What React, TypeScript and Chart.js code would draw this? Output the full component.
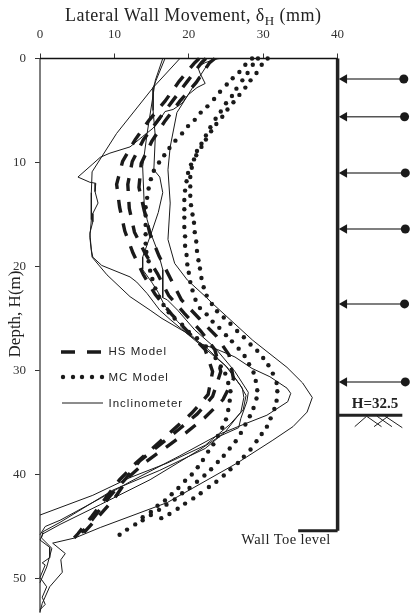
import { useEffect, useRef } from "react";
import { Chart, registerables } from "chart.js";

Chart.register(...registerables);

type P = [number, number];

const xTickMax = 40;
const xScaleMax = 49.53;
const depthMax = 52.79;
const titleMain = "Lateral Wall Movement, δ";
const titleSub = "H";
const titleEnd = " (mm)";
const yTitle = "Depth, H(m)";
const legendLabels = ["HS Model", "MC Model", "Inclinometer"];
const heightLabel = "H=32.5";
const toeLabel = "Wall Toe level";

const mcOuter: P[] = [[30.6,0],[29.8,0.6],[29.1,1.4],[28.3,2.1],[27.6,2.8],[26.8,3.5],[26.0,4.2],[25.2,4.9],[24.5,5.6],[23.7,6.3],[23.0,7.0],[22.3,7.8],[21.7,8.5],[21.0,9.3],[20.4,10.5],[20.2,11.4],[20.2,12.3],[20.2,13.2],[20.3,14.1],[20.5,15.0],[20.7,15.8],[20.8,16.7],[21.0,17.6],[21.1,18.5],[21.3,19.4],[21.5,20.2],[21.7,21.1],[22.0,22.0],[22.4,22.8],[23.1,23.6],[23.8,24.3],[24.7,24.9],[25.6,25.5],[26.5,26.2],[27.4,26.8],[28.3,27.5],[29.2,28.1],[30.0,28.8],[30.7,29.5],[31.3,30.3],[31.8,31.2],[31.9,32.0],[31.8,32.9],[31.5,33.7],[31.0,34.6],[30.5,35.4],[29.8,36.1],[29.1,36.8],[28.3,37.6],[27.4,38.3],[26.6,38.9],[25.6,39.5],[24.7,40.1],[23.7,40.7],[22.7,41.2],[21.6,41.8],[20.6,42.3],[19.5,42.8],[18.5,43.3],[17.4,43.8],[16.3,44.2]];
const mcMiddle: P[] = [[29.3,0],[28.6,0.6],[27.9,1.4],[27.2,2.1],[26.4,2.9],[25.8,3.6],[25.0,4.3],[24.3,5.1],[23.6,5.8],[22.9,6.6],[22.3,7.4],[21.7,8.2],[21.1,8.9],[20.7,9.7],[20.3,10.2],[19.9,11.0],[19.7,11.8],[19.5,12.7],[19.4,13.6],[19.4,14.5],[19.4,15.3],[19.4,16.2],[19.5,17.1],[19.5,18.0],[19.7,18.9],[19.8,19.8],[20.0,20.6],[20.2,21.5],[20.5,22.3],[20.9,23.2],[21.5,24.0],[22.4,24.6],[23.2,25.3],[24.1,25.9],[25.0,26.6],[25.8,27.2],[26.7,27.9],[27.5,28.6],[28.1,29.4],[28.7,30.2],[29.0,31.0],[29.2,31.9],[29.1,32.7],[28.7,33.6],[28.2,34.4],[27.6,35.2],[27.0,36.0],[26.3,36.8],[25.5,37.5],[24.7,38.2],[23.9,38.8],[23.0,39.5],[22.1,40.1],[21.1,40.7],[20.1,41.3],[19.1,41.8],[18.1,42.4],[17.0,42.9],[16.0,43.4],[14.9,43.9],[13.8,44.4],[12.8,44.8],[11.7,45.3],[10.7,45.8]];
const mcInner: P[] = [[28.5,0],[27.6,0.6],[26.8,1.3],[25.9,1.9],[25.1,2.5],[24.2,3.2],[23.4,3.9],[22.5,4.6],[21.6,5.2],[20.8,5.9],[19.9,6.5],[19.1,7.2],[18.2,7.9],[17.4,8.6],[16.7,9.3],[16.0,10.0],[15.3,10.8],[14.9,11.6],[14.6,12.5],[14.4,13.4],[14.2,14.3],[14.2,15.1],[14.2,16.0],[14.2,16.9],[14.2,17.8],[14.3,18.6],[14.6,19.5],[14.8,20.4],[15.1,21.2],[15.5,22.1],[16.0,22.9],[16.6,23.7],[17.3,24.4],[18.1,25.0],[19.1,25.6],[20.0,26.3],[21.1,26.9],[22.3,27.7],[23.6,28.8],[24.3,29.6],[24.9,30.3],[25.3,31.2],[25.6,32.0],[25.5,32.9],[25.3,33.8],[25.0,34.7],[24.5,35.5],[23.9,36.3],[23.3,37.1],[22.6,37.8],[21.9,38.6],[21.2,39.3],[20.4,40.0],[19.5,40.6],[18.6,41.3],[17.7,41.9],[16.8,42.5],[15.8,43.0],[14.9,43.6],[13.8,44.1]];

const hsLeft: P[] = [[21.4,0],[20.8,0.4],[18.7,2.2],[16.8,4.1],[14.7,5.9],[12.8,7.8],[11.1,9.9],[10.3,12.1],[10.7,14.3],[11.4,16.6],[12.5,18.7],[13.9,20.8],[15.5,22.7],[17.7,24.6],[19.9,26.3],[22.2,28.0],[23.2,30.1],[22.6,32.3],[20.4,34.1],[17.9,35.7],[15.4,37.3],[12.9,38.9],[10.7,40.5],[8.9,42.2],[7.0,44.0],[5.1,45.7],[4.6,46.1]];
const hsMiddle: P[] = [[22.3,0],[21.7,0.4],[19.8,2.2],[17.8,4.1],[15.9,5.9],[13.9,7.8],[12.4,9.9],[11.8,12.1],[12.0,14.4],[12.7,16.7],[14.1,18.7],[15.8,20.7],[17.3,22.8],[19.4,24.5],[21.6,26.2],[23.5,28.0],[24.3,30.1],[23.2,32.5],[21.1,34.2],[18.6,35.7],[16.0,37.2],[13.4,38.7],[11.4,40.5],[9.5,42.0],[7.5,43.9],[5.6,45.6]];
const hsRight: P[] = [[23.5,0],[22.8,0.4],[21.0,2.3],[18.8,4.1],[16.8,6.0],[15.0,8.0],[13.6,10.1],[13.3,12.4],[14.0,14.6],[14.8,16.9],[16.0,19.0],[17.5,21.1],[19.0,23.2],[21.4,25.0],[23.7,26.7],[25.4,28.5],[26.0,30.8],[24.6,32.8],[22.2,34.5],[19.6,36.0],[16.9,37.4],[14.2,38.8],[12.0,40.2],[9.9,42.4],[7.9,44.0],[5.9,45.6]];

const incA: P[] = [[23.9,0],[22.2,0.4],[21.2,0.8],[21.5,1.4],[22.2,2.4],[21.1,2.8],[19.9,3.5],[19.1,4.3],[17.9,4.9],[16.8,5.1],[16.1,5.9],[15.2,6.7],[13.8,7.5],[12.1,8.5],[9.4,9.1],[8.1,9.5],[7.0,10.2],[5.1,11.4],[6.7,11.9],[7.5,12.0],[7.4,12.8],[7.8,13.9],[7.1,14.9],[7.1,15.7],[6.7,16.8],[6.9,18.4],[7.1,19.1],[8.3,19.9],[12.1,21.0],[13.0,21.5],[14.4,22.6],[16.1,24.2],[17.5,25.1],[19.5,26.3],[21.5,27.5],[24.9,29.5],[26.9,31.4],[27.7,32.4],[27.3,33.8],[25.5,35.2],[22.2,37.2],[17.1,38.9],[12.1,40.3],[7.1,42.0],[0,43.9]];
const incB: P[] = [[18.8,0],[15.2,2.8],[10.3,7.2],[7.0,10.9],[6.9,12.9],[6.9,15.5],[6.7,17.2],[7.0,19.1],[9.0,20.8],[12.1,22.9],[14.8,24.2],[16.4,25.0],[19.5,26.3],[22.2,27.7],[25.3,29.8],[27.2,31.7],[27.4,32.6],[27.0,34.0],[24.9,35.9],[22.2,37.5],[16.1,39.6],[9.8,41.5],[2.7,44.6],[0.4,45.5],[0.2,46.1],[1.6,47.1],[0.9,48.9],[0,50.4]];
const incC: P[] = [[16.5,0],[15.5,2.1],[15.1,4.0],[14.4,7.2],[13.8,10.4],[14.0,13.9],[14.4,15.5],[15.1,17.2],[15.9,18.7],[16.5,20.3],[16.5,23.0],[17.1,23.2],[18.5,24.2],[20.8,26.1],[23.5,27.8],[26.2,30.1],[28.0,32.1],[27.8,33.0],[27.0,34.6],[26.7,35.5],[24.2,36.3],[21.5,37.6],[14.8,40.5],[8.1,42.9],[2.7,44.8],[0.4,45.7],[0,46.3],[1.3,47.0],[1.3,48.0],[0.3,48.5],[0.7,48.7],[0,49.9],[0.9,50.8],[0.3,51.8],[0.7,52.5],[0,53.0]];
const incD: P[] = [[16.8,0],[15.2,2.8],[15.2,5.0],[15.5,7.5],[15.3,10.7],[16.1,11.4],[16.5,12.9],[15.9,14.8],[15.1,16.5],[13.8,19.1],[13.8,20.3],[15.1,21.6],[15.9,22.5],[16.7,23.7],[18.5,25.3],[21.5,27.4],[23.9,28.0],[26.2,28.7],[28.5,29.8],[30.9,30.6],[33.2,31.7],[33.7,32.2],[33.3,33.0],[30.5,34.3],[27.3,35.2],[24.2,36.1],[18.8,38.2],[12.1,40.7],[8.1,42.3],[2.7,44.4],[0.7,45.0],[0,45.8]];
const incE: P[] = [[24.2,0],[23.1,0.1],[22.4,0.7],[20.6,2.7],[18.4,5.2],[17.5,8.5],[17.2,10.7],[17.5,13.9],[17.2,17.4],[18.1,19.7],[19.8,21.3],[22.4,23.0],[23.1,23.5],[28.6,27.1],[33.2,29.7],[35.3,31.2],[36.6,32.6],[35.9,34.0],[34.0,35.4],[31.3,36.7],[26.5,38.9],[17.1,42.7],[8.1,45.1],[4.7,46.1],[1.7,46.6],[3.4,47.6],[2.8,48.2],[3.0,49.4],[1.3,50.8],[0.3,52.4],[0,53.2]];

const topAxis: P[] = [[0,0],[40,0]];
const leftAxis: P[] = [[0,0],[0,53.3]];
const wall: P[] = [[40,0],[40,45.4]];
const wallToe: P[] = [[34.7,45.4],[40,45.4]];
const ground: P[] = [[40,34.3],[48.7,34.3]];
const hatchX = [42.3,43.9,null,43.9,45.9,null,44.9,46.8,null,45.3,47.3,null,46.4,48.7];
const hatchY = [35.4,34.4,null,34.4,35.4,null,35.4,34.4,null,34.4,35.4,null,34.4,35.5];
const anchorDepths = [1.97,5.6,11.0,16.4,23.6,31.1];
const anchorEnds = [48.9,49.0,49.1,49.1,49.0,49.1];
const anchorTip = 40.9;

const pts = (a: P[]) => a.map(([x, y]) => ({ x, y }));
const inc = (a: P[]) => ({ data: pts(a), showLine: true, borderColor: "#1a1a1a", borderWidth: 1, pointRadius: 0, clip: false as const });
const hs = (a: P[]) => ({ data: pts(a), showLine: true, borderColor: "#1a1a1a", borderWidth: 3.4, borderDash: [13, 11], pointRadius: 0, clip: false as const });
const mc = (a: P[]) => ({ data: pts(a), showLine: false, pointRadius: 2.2, pointBackgroundColor: "#1a1a1a", pointBorderWidth: 0, clip: false as const });
const solid = (a: P[], color: string, w: number) => ({ data: pts(a), showLine: true, borderColor: color, borderWidth: w, pointRadius: 0, clip: false as const });

const noPad = (s: any) => {
  s.paddingLeft = 0;
  s.paddingRight = 0;
  s.paddingTop = 0;
  s.paddingBottom = 0;
};

const textPlugin = {
  id: "figureText",
  afterDraw(chart: any) {
    const c = chart.ctx as CanvasRenderingContext2D;
    c.save();
    c.fillStyle = "#222";
    c.textBaseline = "middle";
    c.textAlign = "left";

    c.font = "18px 'Liberation Serif'";
    (c as any).letterSpacing = "0.45px";
    c.fillText(titleMain, 65, 16);
    let tx = 65 + c.measureText(titleMain).width;
    c.font = "13px 'Liberation Serif'";
    c.fillText(titleSub, tx, 22);
    tx += c.measureText(titleSub).width;
    c.font = "18px 'Liberation Serif'";
    c.fillText(titleEnd, tx, 16);
    (c as any).letterSpacing = "0px";

    c.save();
    c.translate(16, 314);
    c.rotate(-Math.PI / 2);
    c.textAlign = "center";
    c.font = "17px 'Liberation Serif'";
    c.fillText(yTitle, 0, 0);
    c.restore();

    c.font = "bold 15px 'Liberation Serif'";
    c.textAlign = "center";
    c.fillText(heightLabel, 375, 404);
    c.font = "14.5px 'Liberation Serif'";
    (c as any).letterSpacing = "0.4px";
    c.fillText(toeLabel, 286, 540);

    // legend
    c.textAlign = "left";
    c.font = "11.5px 'Liberation Sans'";
    (c as any).letterSpacing = "1px";
    const ly = [352, 378, 404];
    legendLabels.forEach((t, i) => c.fillText(t, 108.5, ly[i]));
    (c as any).letterSpacing = "0px";
    c.strokeStyle = "#1a1a1a";
    c.lineWidth = 3.4;
    c.beginPath();
    c.moveTo(61, 352); c.lineTo(75, 352);
    c.moveTo(87, 352); c.lineTo(101, 352);
    c.stroke();
    c.fillStyle = "#1a1a1a";
    [63, 73, 82, 92, 102].forEach((x) => {
      c.beginPath();
      c.arc(x, 377, 2.2, 0, Math.PI * 2);
      c.fill();
    });
    c.lineWidth = 1;
    c.beginPath();
    c.moveTo(62, 403); c.lineTo(103, 403);
    c.stroke();
    c.restore();
  },
};

export default function App() {
  const ref = useRef<HTMLCanvasElement>(null);
  useEffect(() => {
    document.body.style.margin = "0";
    const anchors = anchorDepths.map((d, i) => ({
      data: [{ x: anchorEnds[i], y: d }, { x: anchorTip, y: d }],
      showLine: true,
      borderColor: "#555",
      borderWidth: 1.5,
      pointStyle: ["circle", "triangle"],
      pointRadius: [4.5, 5.5],
      pointRotation: [0, -90],
      pointBackgroundColor: "#1a1a1a",
      pointBorderWidth: 0,
      clip: false as const,
    }));
    const chart = new Chart(ref.current!, {
      type: "scatter",
      data: {
        datasets: [
          ...[incA, incB, incC, incD, incE].map(inc),
          ...[hsLeft, hsMiddle, hsRight].map(hs),
          ...[mcOuter, mcMiddle, mcInner].map(mc),
          solid(topAxis, "#111", 1.5),
          solid(leftAxis, "#555", 1.5),
          solid(wall, "#222", 3.5),
          solid(wallToe, "#222", 3),
          solid(ground, "#222", 3),
          {
            data: hatchX.map((x, i) => ({ x, y: hatchY[i] })),
            showLine: true, spanGaps: false, borderColor: "#222", borderWidth: 1, pointRadius: 0, clip: false as const,
          },
          ...anchors,
        ] as any,
      },
      options: {
        responsive: false,
        animation: false,
        layout: { padding: 0 },
        plugins: { legend: { display: false }, title: { display: false }, tooltip: { enabled: false } },
        scales: {
          x: {
            type: "linear",
            position: "top",
            min: 0,
            max: xScaleMax,
            afterFit(s: any) { s.height = 58.5; noPad(s); },
            afterBuildTicks(s: any) { s.ticks = s.ticks.filter((t: any) => t.value <= xTickMax); },
            border: { display: false },
            grid: { drawOnChartArea: false, drawTicks: true, tickLength: 5, color: "#333", tickWidth: 1 },
            ticks: { stepSize: 10, includeBounds: false, padding: 11, maxRotation: 0, color: "#333", font: { family: "'Liberation Serif'", size: 13 } },
          },
          y: {
            type: "linear",
            reverse: true,
            min: 0,
            max: depthMax,
            afterFit(s: any) { s.width = 40; noPad(s); },
            border: { display: false },
            grid: { drawOnChartArea: false, drawTicks: true, tickLength: 5, color: "#333", tickWidth: 1 },
            ticks: { stepSize: 10, includeBounds: false, padding: 9, color: "#333", font: { family: "'Liberation Serif'", size: 13 } },
          },
        },
      },
      plugins: [textPlugin],
    } as any);
    return () => chart.destroy();
  }, []);
  return <canvas ref={ref} width={414} height={613} style={{ display: "block" }} />;
}
